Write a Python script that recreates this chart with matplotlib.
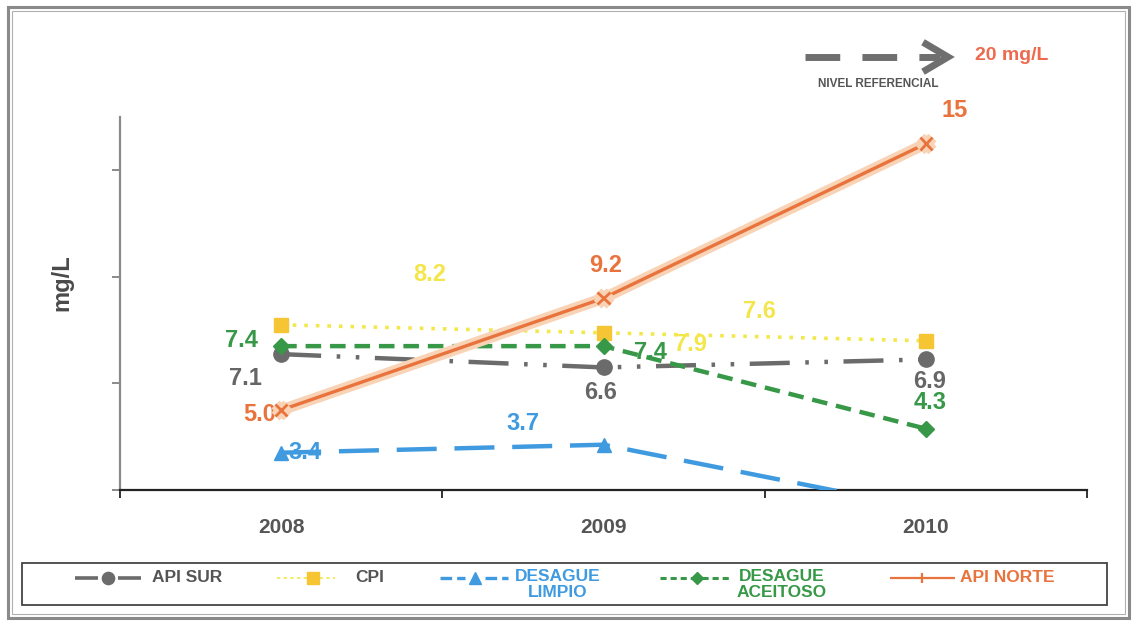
import matplotlib
matplotlib.use("Agg")
import matplotlib.pyplot as plt
from matplotlib.lines import Line2D
from matplotlib.patches import Rectangle
import matplotlib.patheffects as pe

# ---------------- data ----------------
years = ["2008", "2009", "2010"]
api_sur = [7.1, 6.6, 6.9]
cpi = [8.2, 7.9, 7.6]
desague_limpio = [3.4, 3.7, 1.3]
desague_aceitoso = [7.4, 7.4, 4.3]
api_norte = [5.0, 9.2, 15.0]

api_sur_labels = ["7.1", "6.6", "6.9"]
cpi_labels = ["8.2", "7.9", "7.6"]
limpio_labels = ["3.4", "3.7", ""]
aceitoso_labels = ["7.4", "7.4", "4.3"]
norte_labels = ["5.0", "9.2", "15"]

series_names = ["API SUR", "CPI", "DESAGUE\nLIMPIO", "DESAGUE\nACEITOSO", "API NORTE"]
ref_text = "NIVEL REFERENCIAL"
ref_value = "20 mg/L"
y_label = "mg/L"
y_ticks = [2, 6, 10, 14]

# ---------------- style ----------------
plt.rcParams["font.family"] = ["Liberation Sans", "DejaVu Sans"]

W, H = 1132, 622
fig = plt.figure(figsize=(W / 100, H / 100), dpi=100)
fig.patch.set_facecolor("white")

def fx(x):
    return x / W

def fy(y):
    return 1 - y / H

ax = fig.add_axes([fx(120), fy(490), fx(1087) - fx(120), fy(117) - fy(490)])

c_sur = "#6b6b6b"
c_cpi_line = "#f3e84a"
c_cpi_mk = "#f6c533"
c_limpio = "#3f9ae0"
c_aceit = "#379847"
c_norte = "#e9733c"
c_norte_halo = "#f8d3b6"

styles = [
    dict(color=c_sur, lw=3.2, linestyle=(0, (9, 3.5, 0.8, 3.5, 0.8, 3.5)),
         marker="o", markersize=11, markerfacecolor=c_sur, markeredgecolor=c_sur),
    dict(color=c_cpi_line, lw=2.6, linestyle=(0, (1, 2.2)),
         marker="s", markersize=10, markerfacecolor=c_cpi_mk, markeredgecolor=c_cpi_mk),
    dict(color=c_limpio, lw=3.2, linestyle=(0, (9, 4)),
         marker="^", markersize=10, markerfacecolor=c_limpio, markeredgecolor=c_limpio),
    dict(color=c_aceit, lw=3.2, linestyle=(0, (3.5, 2)),
         marker="D", markersize=8, markerfacecolor=c_aceit, markeredgecolor=c_aceit),
    dict(color=c_norte, lw=2.4, solid_capstyle="round",
         marker="x", markersize=9, markeredgewidth=2, markeredgecolor=c_norte),
]
series = [api_sur, cpi, desague_limpio, desague_aceitoso, api_norte]
zorders = [4, 3, 4, 5, 6]

x = list(range(len(years)))
for vals, st, z in zip(series, styles, zorders):
    extra = {}
    if st["color"] == c_norte:
        extra["path_effects"] = [pe.Stroke(linewidth=8, foreground=c_norte_halo), pe.Normal()]
    ax.plot(x, vals, zorder=z, **st, **extra)

ax.set_xlim(-0.5, len(years) - 0.5)
ax.set_ylim(2, 16)

# axis styling
for s in ["top", "right"]:
    ax.spines[s].set_visible(False)
ax.spines["left"].set_color("#8a8a8a")
ax.spines["left"].set_linewidth(1.6)
ax.spines["bottom"].set_color("#222222")
ax.spines["bottom"].set_linewidth(1.6)

ax.set_yticks(y_ticks)
ax.set_yticklabels([])
ax.tick_params(axis="y", direction="out", length=6, width=1.4, color="#8a8a8a")

ax.set_xticks([i - 0.5 for i in range(len(years) + 1)])
ax.set_xticklabels([])
ax.set_xticks(x, minor=True)
ax.set_xticklabels(years, minor=True)
ax.tick_params(axis="x", which="major", direction="out", length=6, width=1.4, color="#333333")
ax.tick_params(axis="x", which="minor", length=0, pad=20, labelsize=15, labelcolor="#555555")
for t in ax.get_xticklabels(minor=True):
    t.set_fontweight("bold")

fig.text(fx(62), fy(283), y_label, rotation=90, ha="center", va="center",
         fontsize=17, fontweight="bold", color="#4a4a4a")

# data labels
def put_labels(vals, labels, offsets, color, z=8):
    for i, (v, lab, off) in enumerate(zip(vals, labels, offsets)):
        if not lab:
            continue
        ax.annotate(lab, (i, v), xytext=off, textcoords="offset pixels",
                    ha="center", va="center", fontsize=17, fontweight="bold",
                    color=color, zorder=z, annotation_clip=False)

put_labels(api_sur, api_sur_labels, [(-36, -24), (-3, -25), (4, -22)], "#666666")
put_labels(cpi, cpi_labels, [(149, 50), (87, -12), (-166, 29)], "#f3e64a")
put_labels(desague_limpio, limpio_labels, [(24, 0), (-81, 21), (0, 0)], c_limpio)
put_labels(desague_aceitoso, aceitoso_labels, [(-40, 6), (47, -6), (4, 26)], c_aceit)
put_labels(api_norte, norte_labels, [(-21, -4), (2, 33), (29, 33)], c_norte, z=2)

# reference level annotation (top right)
arrow_c = "#6f6f6f"
fig.add_artist(Line2D([fx(805), fx(940)], [fy(57), fy(57)], color=arrow_c, lw=5,
                      linestyle=(0, (5.0, 3.2))))
fig.add_artist(Line2D([fx(926), fx(948), fx(926)], [fy(44), fy(57), fy(70)],
                      color=arrow_c, lw=5, solid_joinstyle="miter"))
fig.text(fx(878), fy(84), ref_text, ha="center", va="center", fontsize=8.5,
         fontweight="bold", color="#555555")
fig.text(fx(1012), fy(55), ref_value, ha="center", va="center", fontsize=14,
         fontweight="bold", color="#ee6a4e")

# legend (manual layout: key = two line pieces around a marker, then label)
leg_items = [
    # (handle x0, marker x, handle x1, gap, key line width, key linestyle, label x, label color)
    (75, 108, 141, 10, 2.6, "-", 152, "#555555"),
    (277, 313, 335, 0, 1.2, (0, (2, 2)), 355, "#555555"),
    (440, 475, 508, 10, 2.4, (0, (3.5, 1.5)), 515, c_limpio),
    (660, 697, 730, 5, 2.2, (0, (2, 1.3)), 737, c_aceit),
    (890, 922, 955, 0, 1.6, "-", 960, c_norte),
]
leg_y = 578
for (x0, xm, x1, gap, klw, kls, tx, tc), st, name in zip(leg_items, styles, series_names):
    for a, b in ((x0, xm - gap), (xm + gap, x1)):
        fig.add_artist(Line2D([fx(a), fx(b)], [fy(leg_y), fy(leg_y)], lw=klw,
                              linestyle=kls, color=st["color"], solid_capstyle="butt"))
    mk = {k: v for k, v in st.items() if k.startswith("marker")}
    mk["markersize"] = mk.get("markersize", 8) * 0.8
    if st["color"] == c_norte:
        mk = dict(marker="|", markersize=7, markeredgewidth=1.6, markeredgecolor=c_norte)
    fig.add_artist(Line2D([fx(xm)], [fy(leg_y)], linestyle="none", **mk))
    lines = name.split("\n")
    if len(lines) == 1:
        fig.text(fx(tx), fy(leg_y), name, ha="left", va="center", fontsize=12.5,
                 fontweight="bold", color=tc)
    else:
        fig.text(fx(tx), fy(leg_y - 9), name, ha="left", va="top", fontsize=12.5,
                 fontweight="bold", color=tc, multialignment="center", linespacing=1.05)

fig.add_artist(Rectangle((fx(22), fy(605)), fx(1107) - fx(22), fy(563) - fy(605),
                         fill=False, edgecolor="#444444", lw=1.3))

# outer frame
fig.add_artist(Rectangle((fx(8), fy(618)), fx(1129) - fx(8), fy(7) - fy(618),
                         fill=False, edgecolor="#8a8a8a", lw=2.2))
fig.add_artist(Rectangle((fx(12), fy(614)), fx(1125) - fx(12), fy(11) - fy(614),
                         fill=False, edgecolor="#b0b0b0", lw=0.8))

fig.savefig("out.png", dpi=100)
